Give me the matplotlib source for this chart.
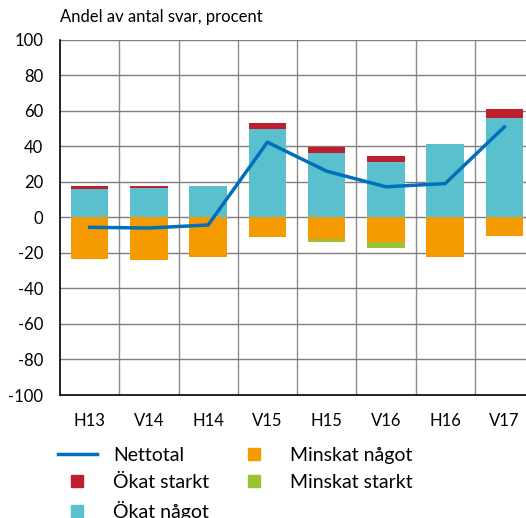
import matplotlib.pyplot as plt
import numpy as np
from matplotlib.lines import Line2D

plt.rcParams['font.family'] = ['Lato', 'DejaVu Sans']
plt.rcParams['axes.unicode_minus'] = False

# Survey periods and answer shares (percent)
periods = ["H13", "V14", "H14", "V15", "H15", "V16", "H16", "V17"]
okat_nagot = [16, 16.3, 17.6, 49.8, 36.3, 30.9, 41.3, 56]
okat_starkt = [1.4, 1.5, 0, 3.2, 3.4, 3.5, 0, 5.2]
minskat_nagot = [-23.3, -23.8, -22.3, -10.9, -12.2, -13.9, -22.3, -10.3]
minskat_starkt = [0, 0, 0, 0, -1.7, -3.3, 0, 0]
nettotal = [-5.6, -6, -4.3, 42.3, 26, 17.2, 19, 50.9]

c_red = "#BE1E2D"
c_cyan = "#5BC0CE"
c_orange = "#F59B00"
c_green = "#9BC232"
c_blue = "#0070BA"

fig = plt.figure(figsize=(5.26, 5.18), dpi=100)
ax = fig.add_axes([60 / 526, 1 - 395 / 518, 474 / 526, 355.3 / 518])

x = np.arange(len(periods))
w = 0.63
ax.bar(x, okat_nagot, w, color=c_cyan, linewidth=0, zorder=2)
ax.bar(x, okat_starkt, w, bottom=okat_nagot, color=c_red, linewidth=0, zorder=2)
ax.bar(x, minskat_nagot, w, color=c_orange, linewidth=0, zorder=2)
ax.bar(x, minskat_starkt, w, bottom=minskat_nagot, color=c_green, linewidth=0, zorder=2)
ax.plot(x, nettotal, color=c_blue, lw=2.5, zorder=3)

ax.set_xlim(-0.5, len(periods) - 0.5)
ax.set_ylim(-100, 100)
ax.set_yticks(np.arange(-100, 101, 20))
ax.set_xticks(x)
ax.set_xticklabels(periods)
ax.set_xticks(np.arange(0.5, len(periods) - 0.5, 1), minor=True)
ax.tick_params(axis="both", which="both", length=0, labelsize=12)
ax.tick_params(axis="x", pad=13)
ax.tick_params(axis="y", pad=12)
ax.grid(axis="y", which="major", color="#7f7f7f", lw=1, zorder=0)
ax.grid(axis="x", which="minor", color="#8c8c8c", lw=1, zorder=0)
ax.set_axisbelow(True)
for s in ["top", "right"]:
    ax.spines[s].set_visible(False)
ax.spines["left"].set_color("black")
ax.spines["bottom"].set_color("black")
ax.spines["left"].set_linewidth(1.2)
ax.spines["bottom"].set_linewidth(1.2)

fig.text(60 / 526, 1 - 17 / 518, "Andel av antal svar, procent", fontsize=12,
         ha="left", va="center")

handles = [
    Line2D([], [], color=c_blue, lw=2.5),
    Line2D([], [], color=c_red, marker="s", ls="none", markersize=9),
    Line2D([], [], color=c_cyan, marker="s", ls="none", markersize=9),
    Line2D([], [], color=c_orange, marker="s", ls="none", markersize=9),
    Line2D([], [], color=c_green, marker="s", ls="none", markersize=9),
]
labels = ["Nettotal", "Ökat starkt", "Ökat något", "Minskat något", "Minskat starkt"]
fig.legend(handles, labels, ncol=2, loc="upper left",
           bbox_to_anchor=(58 / 526, 1 - 447 / 518), frameon=False,
           fontsize=14, handlelength=2.0, handletextpad=0.85,
           labelspacing=0.5, columnspacing=1.3, borderpad=0, borderaxespad=0)

fig.savefig("out.png", dpi=100)
